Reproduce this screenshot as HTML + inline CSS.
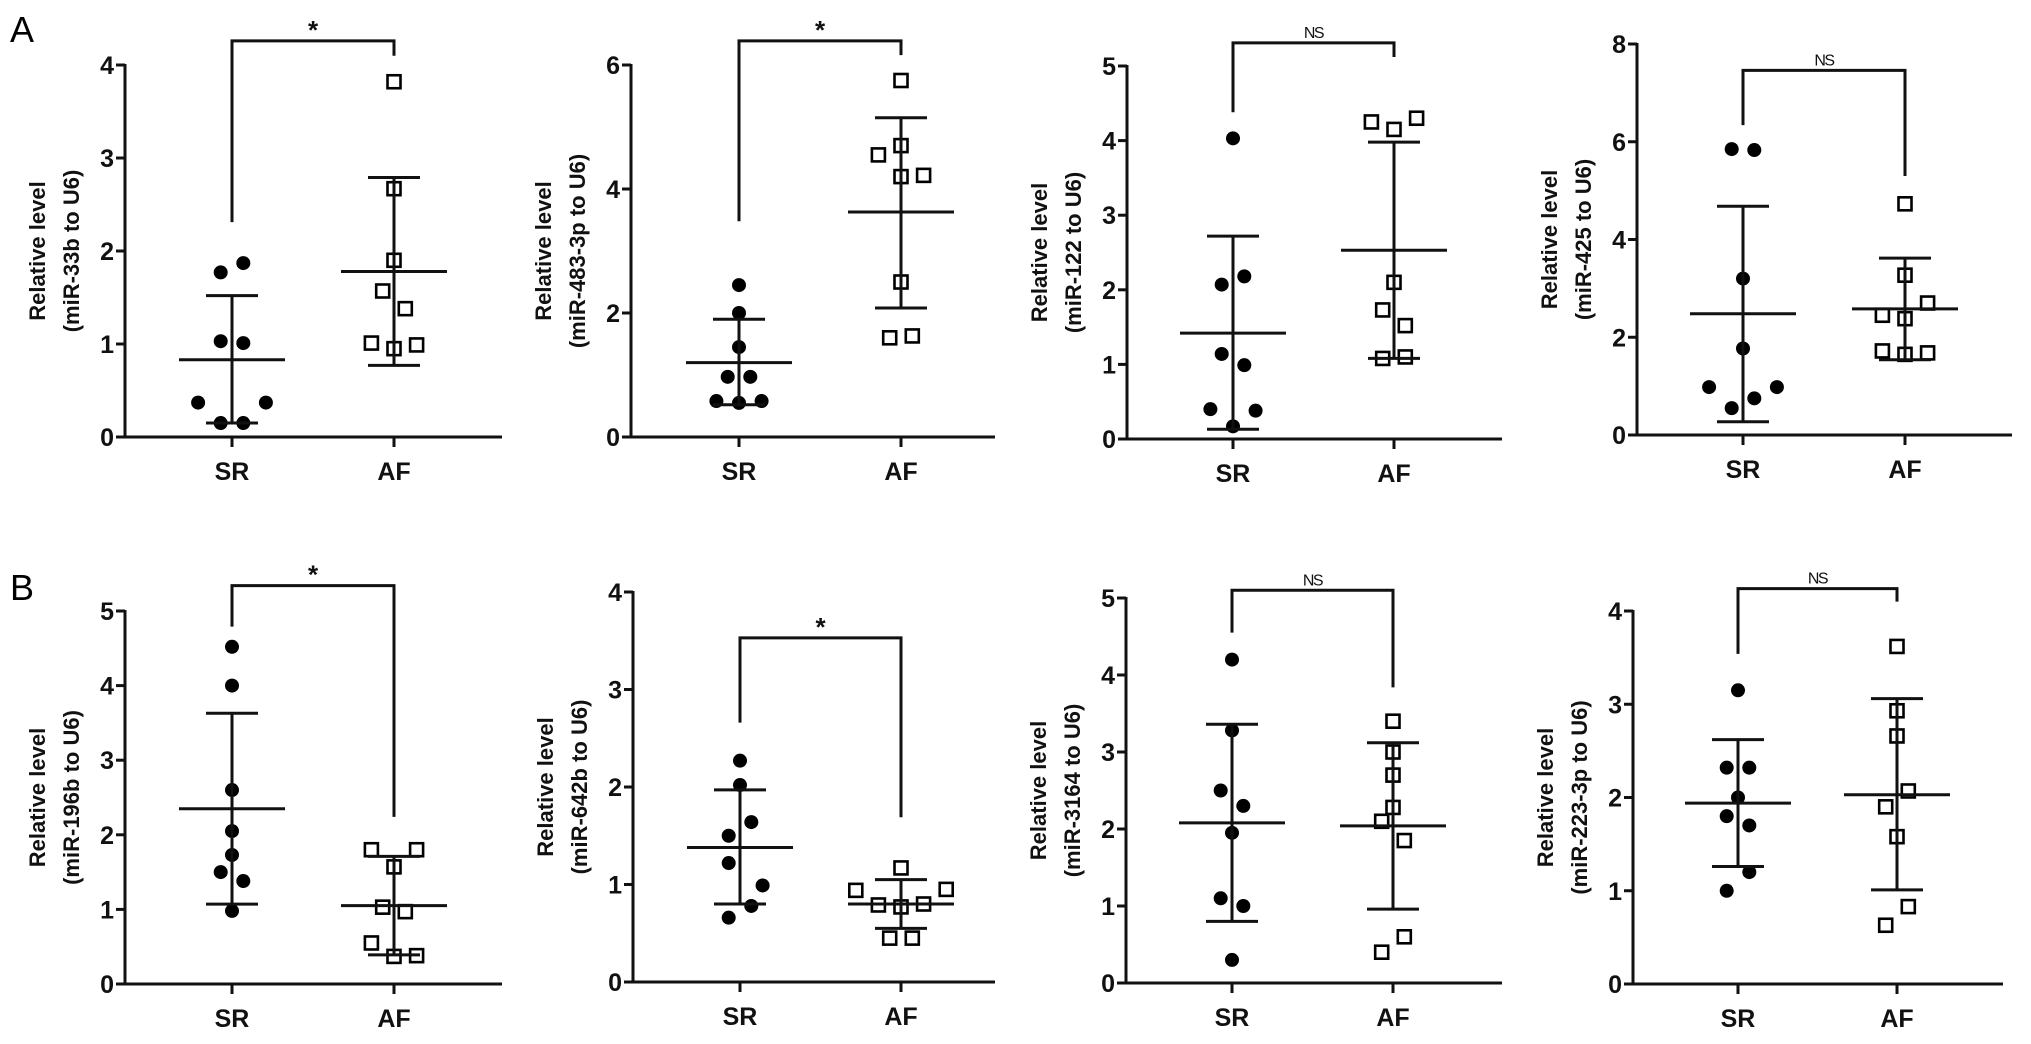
<!DOCTYPE html>
<html><head><meta charset="utf-8"><style>
html,body{margin:0;padding:0;background:#fff;}
svg{display:block;font-family:"Liberation Sans",Arial,sans-serif;}
</style></head><body>
<svg id="fig" width="2031" height="1044" viewBox="0 0 2031 1044" xmlns="http://www.w3.org/2000/svg">
<text x="10" y="42" font-size="36">A</text>
<text x="10" y="600" font-size="36">B</text>
</svg>
<script>
// ---- data ----
const categories = ["SR", "AF"];
const genes = ["miR-33b", "miR-483-3p", "miR-122", "miR-425", "miR-196b", "miR-642b", "miR-3164", "miR-223-3p"];
const sigLabels = ["*", "*", "NS", "NS", "*", "*", "NS", "NS"];
const yMax = [4, 6, 5, 8, 5, 4, 5, 4];
const yStep = [1, 2, 1, 2, 1, 1, 1, 1];

const p1SR = [1.77, 1.87, 1.03, 1.01, 0.37, 0.37, 0.15, 0.15];
const p1AF = [3.82, 2.67, 1.90, 1.57, 1.38, 1.01, 0.95, 0.99];
const p2SR = [2.45, 2.00, 1.45, 0.97, 0.97, 0.58, 0.55, 0.58];
const p2AF = [5.75, 4.55, 4.70, 4.20, 4.22, 2.50, 1.60, 1.63];
const p3SR = [4.03, 2.07, 2.18, 1.14, 0.99, 0.40, 0.38, 0.17];
const p3AF = [4.25, 4.15, 4.30, 2.10, 1.73, 1.52, 1.08, 1.10];
const p4SR = [5.85, 5.83, 3.20, 1.77, 0.98, 0.98, 0.75, 0.55];
const p4AF = [4.73, 3.27, 2.70, 2.45, 2.38, 1.72, 1.65, 1.68];
const p5SR = [4.52, 4.00, 2.60, 2.05, 1.73, 1.50, 1.38, 0.98];
const p5AF = [1.80, 1.80, 1.57, 1.03, 0.97, 0.55, 0.37, 0.38];
const p6SR = [2.27, 2.02, 1.64, 1.50, 1.22, 0.99, 0.78, 0.66];
const p6AF = [1.17, 0.94, 0.95, 0.79, 0.77, 0.80, 0.45, 0.45];
const p7SR = [4.20, 3.28, 2.50, 2.30, 1.95, 1.10, 1.00, 0.30];
const p7AF = [3.40, 3.00, 2.70, 2.28, 2.10, 1.85, 0.60, 0.40];
const p8SR = [3.15, 2.32, 2.32, 2.00, 1.80, 1.70, 1.20, 1.00];
const p8AF = [3.62, 2.93, 2.66, 2.07, 1.90, 1.58, 0.83, 0.63];

// mean, upper (mean+SD), lower (mean-SD)
const srMean = [0.83, 1.20, 1.42, 2.48, 2.35, 1.38, 2.08, 1.94];
const srUpper = [1.52, 1.90, 2.72, 4.68, 3.63, 1.97, 3.36, 2.62];
const srLower = [0.15, 0.52, 0.13, 0.27, 1.07, 0.80, 0.80, 1.26];
const afMean = [1.78, 3.63, 2.53, 2.58, 1.05, 0.80, 2.04, 2.03];
const afUpper = [2.79, 5.15, 3.98, 3.62, 1.71, 1.05, 3.12, 3.06];
const afLower = [0.77, 2.08, 1.08, 1.54, 0.39, 0.55, 0.96, 1.01];
// bracket end values
const brLeft = [2.31, 3.48, 4.38, 6.34, 4.79, 2.66, 4.55, 3.54];
const brRight = [4.10, 6.16, 5.12, 5.30, 2.24, 1.69, 3.84, 4.10];
const brTop = [4.26, 6.39, 5.31, 7.46, 5.34, 3.53, 5.10, 4.24];

// ---- layout (not data) ----
const srAll = [p1SR, p2SR, p3SR, p4SR, p5SR, p6SR, p7SR, p8SR];
const afAll = [p1AF, p2AF, p3AF, p4AF, p5AF, p6AF, p7AF, p8AF];
const jitSR = [[-1,1,-1,1,-3,3,-1,1],[0,0,0,-1,1,-2,0,2],[0,-1,1,-1,1,-2,2,0],[-1,1,0,0,-3,3,1,-1],
               [0,0,0,0,0,-1,1,0],[0,0,1,-1,-1,2,1,-1],[0,0,-1,1,0,-1,1,0],[0,-1,1,0,-1,1,1,-1]];
const jitAF = [[0,0,0,-1,1,-2,0,2],[0,-2,0,0,2,0,-1,1],[-2,0,2,0,-1,1,-1,1],[0,0,2,-2,0,-2,0,2],
               [-2,2,0,-1,1,-2,0,2],[0,-4,4,-2,0,2,-1,1],[0,0,0,0,-1,1,1,-1],[0,0,0,1,-1,0,1,-1]];
const layout = [
 {ax:125,y0:437,yT:65,sr:232,af:394,end:502},
 {ax:631,y0:437,yT:65,sr:739,af:901,end:995},
 {ax:1127,y0:439,yT:66,sr:1233,af:1394,end:1502},
 {ax:1637,y0:435,yT:44,sr:1743,af:1905,end:2012},
 {ax:125,y0:984,yT:611,sr:232,af:394,end:502},
 {ax:633,y0:982,yT:592,sr:740,af:901,end:995},
 {ax:1126,y0:983,yT:598,sr:1232,af:1393,end:1502},
 {ax:1633,y0:984,yT:611,sr:1738,af:1897,end:2003}
];
const NS = "http://www.w3.org/2000/svg";
const svg = document.getElementById('fig');
function mk(tag, attrs, parent){ const e=document.createElementNS(NS,tag); for(const k in attrs) e.setAttribute(k,attrs[k]); (parent||svg).appendChild(e); return e; }
function line(g,x1,y1,x2,y2,name){ const l=mk('line',{x1,y1,x2,y2,stroke:'#111','stroke-width':3},g);
  
   return l; }

for(let i=0;i<8;i++){
  const L=layout[i];
  const y=v=>L.y0-(v/yMax[i])*(L.y0-L.yT);
  const g=mk('g',{});
  
  
  line(g,L.ax,L.yT-1,L.ax,L.y0+1.5,'y-axis');
  line(g,L.ax,L.y0,L.end,L.y0,'x-axis');
  for(let v=0; v<=yMax[i]+1e-9; v+=yStep[i]){
    line(g,L.ax-9,y(v),L.ax,y(v),'y-tick');
    const t=mk('text',{x:L.ax-11,y:y(v)+9,'font-size':25,'font-weight':'bold','text-anchor':'end',fill:'#111'},g);
    t.textContent=v;
    
    
  }
  [L.sr,L.af].forEach((cx,k)=>{
    line(g,cx,L.y0,cx,L.y0+10,'x-tick');
    const t=mk('text',{x:cx,y:L.y0+43,'font-size':25,'font-weight':'bold','text-anchor':'middle',fill:'#111'},g);
    t.textContent=categories[k];
    
    
  });
  const cy=(L.y0+L.yT)/2;
  const yt=mk('text',{transform:`translate(${L.ax-80},${cy}) rotate(-90)`,'font-size':22,'font-weight':'bold','text-anchor':'middle',fill:'#111'},g);
  yt.textContent='Relative level';
  
  
  const yt2=mk('text',{transform:`translate(${L.ax-46},${cy}) rotate(-90)`,'font-size':22,'font-weight':'bold','text-anchor':'middle',fill:'#111'},g);
  yt2.textContent='('+genes[i]+' to U6)';
  
  
  srAll[i].forEach((v,j)=>{
    const c=mk('circle',{cx:L.sr+jitSR[i][j]*11.3,cy:y(v),r:7,fill:'#000'},g);
    
    
  });
  afAll[i].forEach((v,j)=>{
    const r=mk('rect',{x:L.af+jitAF[i][j]*11.3-6.5,y:y(v)-6.5,width:13,height:13,fill:'#fff',stroke:'#000','stroke-width':2.6},g);
    
    
  });
  [[L.sr,srMean[i],srUpper[i],srLower[i],'sr'],[L.af,afMean[i],afUpper[i],afLower[i],'af']].forEach(([cx,m,u,lo,n])=>{
    line(g,cx,y(u),cx,y(lo),n+'-sd-bar');
    line(g,cx-26,y(u),cx+26,y(u),n+'-sd-cap-upper');
    line(g,cx-26,y(lo),cx+26,y(lo),n+'-sd-cap-lower');
    line(g,cx-53,y(m),cx+53,y(m),n+'-mean-line');
  });
  const by=y(brTop[i]);
  const p=mk('path',{d:`M${L.sr},${y(brLeft[i])} V${by} H${L.af} V${y(brRight[i])}`,fill:'none',stroke:'#111','stroke-width':3},g);
  
  
  const isStar=sigLabels[i]==='*';
  const st=mk('text',{x:(L.sr+L.af)/2,y:isStar?by-2:by-5,'font-size':isStar?26:16,'font-weight':isStar?'bold':'normal','text-anchor':'middle',fill:'#111','letter-spacing':isStar?0:-1.5},g);
  st.textContent=sigLabels[i];
  
  
}
</script>
</body></html>
